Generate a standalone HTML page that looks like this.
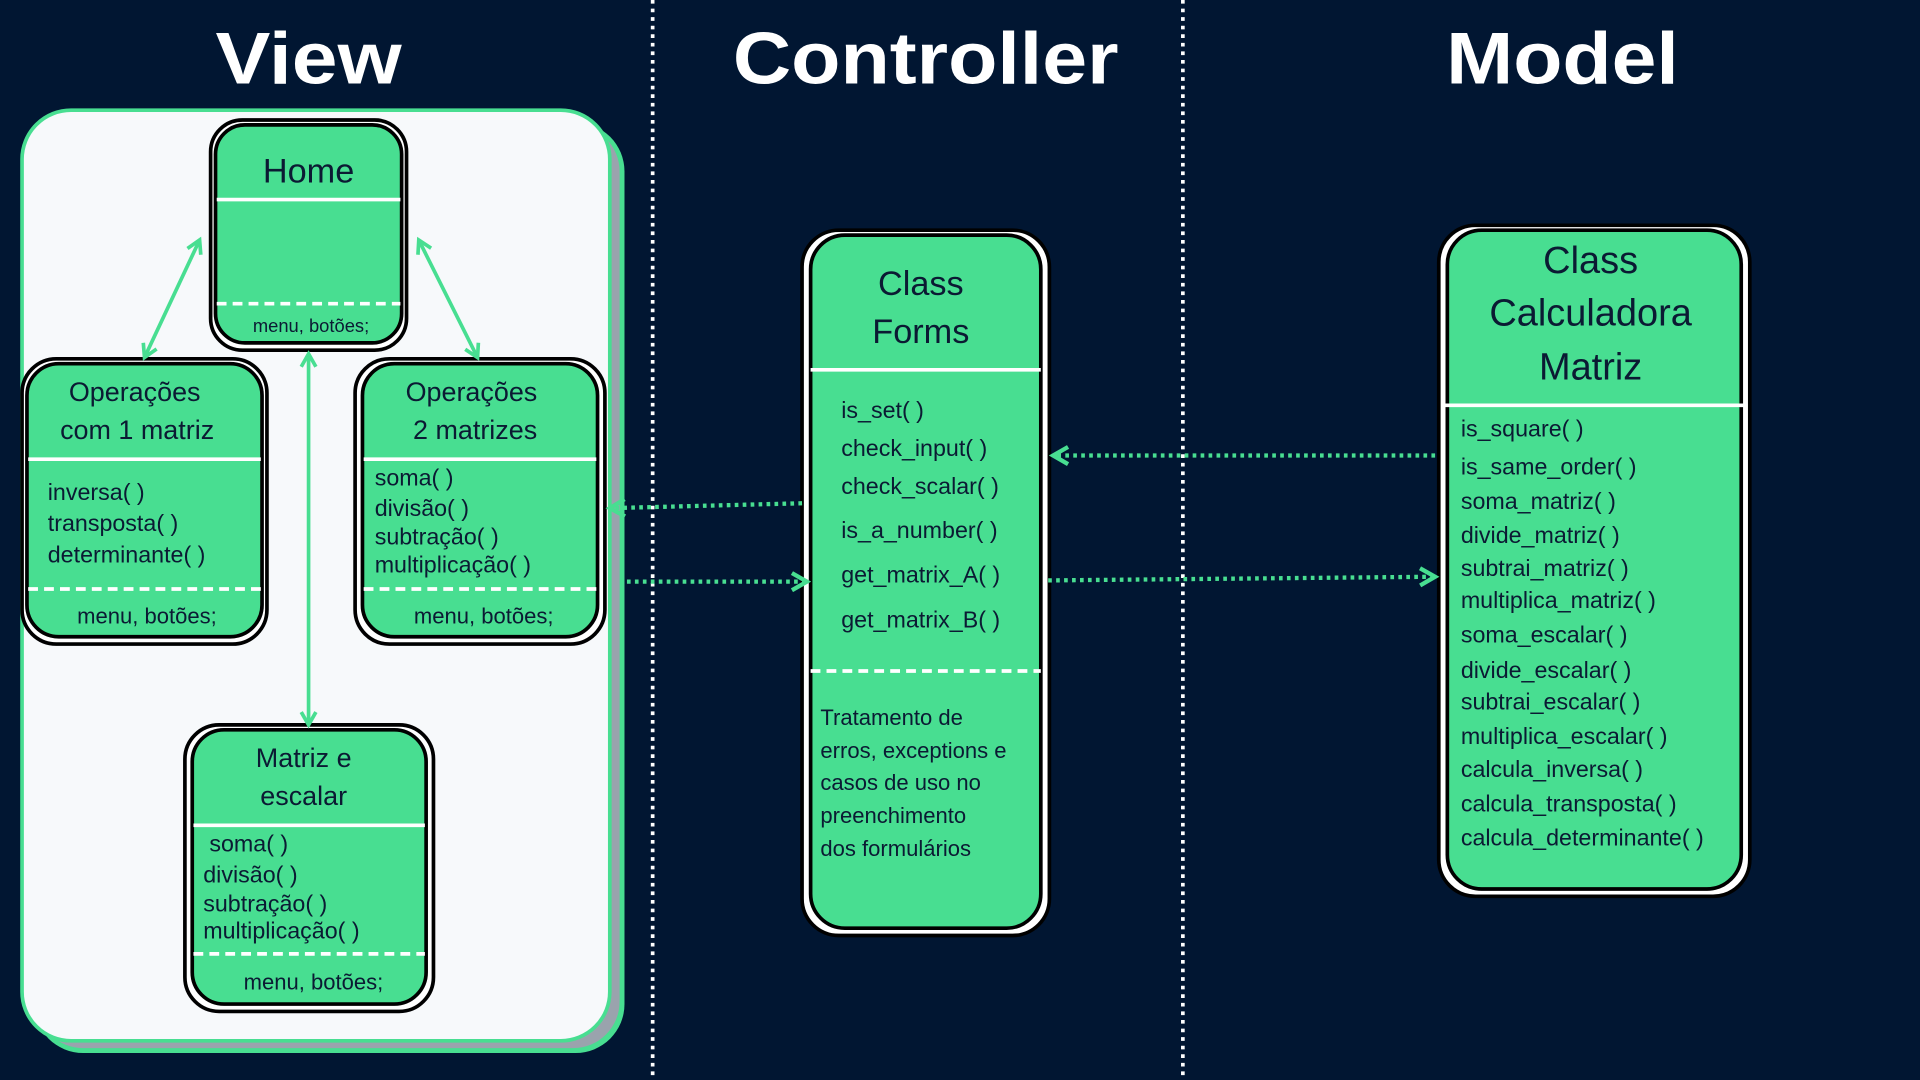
<!DOCTYPE html>
<html><head><meta charset="utf-8"><style>
html,body{margin:0;padding:0;background:#011632;}
svg{display:block}
text{font-family:"Liberation Sans",sans-serif;fill:#0b1a33;}
.t{font-size:22px}
.i{font-size:19px}
.m{font-size:18px}
</style></head><body>
<svg width="1920" height="1080" viewBox="0 0 1568 882" xmlns="http://www.w3.org/2000/svg">
<defs>
<marker id="ah" viewBox="0 0 10 10" refX="8" refY="5" markerWidth="5" markerHeight="5" orient="auto-start-reverse">
<path d="M1 1 L8 5 L1 9" fill="none" stroke="#48de91" stroke-width="2"/></marker>
</defs>
<rect width="1568" height="882" fill="#011632"/>
<line x1="533" y1="0" x2="533" y2="882" stroke="#fff" stroke-width="3" stroke-dasharray="3 4"/>
<line x1="966" y1="0" x2="966" y2="882" stroke="#fff" stroke-width="3" stroke-dasharray="3 4"/>
<g font-weight="bold" font-size="60" text-anchor="middle">
<text x="252" y="68" style="fill:#fff" textLength="152" lengthAdjust="spacingAndGlyphs">View</text>
<text x="756" y="68" style="fill:#fff" textLength="315" lengthAdjust="spacingAndGlyphs">Controller</text>
<text x="1276" y="68" style="fill:#fff" textLength="190" lengthAdjust="spacingAndGlyphs">Model</text>
</g>
<rect x="28" y="100" width="482" height="760" rx="40" fill="#48de91"/>
<rect x="30" y="102" width="476" height="754" rx="38" fill="#9aa3ad"/>
<rect x="18" y="90" width="480" height="760" rx="40" fill="#f7f9fb" stroke="#48de91" stroke-width="3"/>

<g stroke="#000" stroke-width="3">
<rect x="172" y="98" width="160" height="188" rx="26" fill="#fff"/>
<rect x="176" y="102" width="152" height="178" rx="24" fill="#48de91"/>
<rect x="18" y="293" width="200" height="233" rx="28" fill="#fff"/>
<rect x="22" y="297" width="192" height="223" rx="26" fill="#48de91"/>
<rect x="290" y="293" width="204" height="233" rx="28" fill="#fff"/>
<rect x="296" y="297" width="192" height="223" rx="26" fill="#48de91"/>
<rect x="151" y="592" width="203" height="234" rx="28" fill="#fff"/>
<rect x="157" y="596" width="191" height="224" rx="26" fill="#48de91"/>
<rect x="655" y="188" width="202" height="576" rx="30" fill="#fff"/>
<rect x="662" y="192" width="188" height="566" rx="28" fill="#48de91"/>
<rect x="1175" y="184" width="254" height="548" rx="30" fill="#fff"/>
<rect x="1182" y="188" width="240" height="538" rx="28" fill="#48de91"/>
</g>
<g stroke="#fff" stroke-width="3">
<line x1="177" y1="163" x2="327" y2="163"/>
<line x1="23" y1="375" x2="213" y2="375"/>
<line x1="297" y1="375" x2="487" y2="375"/>
<line x1="158" y1="674" x2="347" y2="674"/>
<line x1="662" y1="302" x2="850" y2="302"/>
<line x1="1180" y1="331" x2="1424" y2="331"/>
</g>
<g stroke="#fff" stroke-width="3" stroke-dasharray="8 5">
<line x1="177" y1="248" x2="327" y2="248"/>
<line x1="23" y1="481" x2="213" y2="481"/>
<line x1="297" y1="481" x2="487" y2="481"/>
<line x1="158" y1="779" x2="347" y2="779"/>
<line x1="662" y1="548" x2="850" y2="548"/>
</g>
<g dominant-baseline="central">
<text x="252" y="140" font-size="28" text-anchor="middle">Home</text>
<text x="254" y="266" font-size="15" text-anchor="middle">menu, botões;</text>
<g class="t" text-anchor="middle">
<text x="110" y="320">Operações</text><text x="112" y="351">com 1 matriz</text>
<text x="385" y="320">Operações</text><text x="388" y="351">2 matrizes</text>
<text x="248" y="619">Matriz e</text><text x="248" y="650">escalar</text>
</g>
<g class="i">
<text x="39" y="402">inversa( )</text><text x="39" y="427">transposta( )</text><text x="39" y="453">determinante( )</text>
<text x="306" y="390">soma( )</text><text x="306" y="415">divisão( )</text><text x="306" y="438">subtração( )</text><text x="306" y="461">multiplicação( )</text>
<text x="171" y="689">soma( )</text><text x="166" y="714">divisão( )</text><text x="166" y="738">subtração( )</text><text x="166" y="760">multiplicação( )</text>
</g>
<g class="m" text-anchor="middle">
<text x="120" y="503">menu, botões;</text>
<text x="395" y="503">menu, botões;</text>
<text x="256" y="802">menu, botões;</text>
</g>
<g font-size="28" text-anchor="middle">
<text x="752" y="232">Class</text><text x="752" y="271">Forms</text>
</g>
<g font-size="31" text-anchor="middle">
<text x="1299" y="213">Class</text><text x="1299" y="256">Calculadora</text><text x="1299" y="300">Matriz</text>
</g>
<g class="i">
<text x="687" y="335">is_set( )</text><text x="687" y="366">check_input( )</text><text x="687" y="397">check_scalar( )</text>
<text x="687" y="433">is_a_number( )</text><text x="687" y="469">get_matrix_A( )</text><text x="687" y="506">get_matrix_B( )</text>
</g>
<g class="m">
<text x="670" y="586">Tratamento de</text><text x="670" y="613">erros, exceptions e</text><text x="670" y="639">casos de uso no</text>
<text x="670" y="666">preenchimento</text><text x="670" y="693">dos formulários</text>
</g>
<g class="i">
<text x="1193" y="350">is_square( )</text><text x="1193" y="381">is_same_order( )</text><text x="1193" y="409">soma_matriz( )</text>
<text x="1193" y="437">divide_matriz( )</text><text x="1193" y="464">subtrai_matriz( )</text><text x="1193" y="490">multiplica_matriz( )</text>
<text x="1193" y="518">soma_escalar( )</text><text x="1193" y="547">divide_escalar( )</text><text x="1193" y="573">subtrai_escalar( )</text>
<text x="1193" y="601">multiplica_escalar( )</text><text x="1193" y="628">calcula_inversa( )</text><text x="1193" y="656">calcula_transposta( )</text>
<text x="1193" y="684">calcula_determinante( )</text>
</g>
</g>
<g stroke="#48de91" stroke-width="3" fill="none">
<line x1="163" y1="196" x2="118" y2="292" marker-start="url(#ah)" marker-end="url(#ah)"/>
<line x1="342" y1="196" x2="390" y2="292" marker-start="url(#ah)" marker-end="url(#ah)"/>
<line x1="252" y1="289" x2="252" y2="592" marker-start="url(#ah)" marker-end="url(#ah)"/>
<g stroke-dasharray="3 3.5" stroke-width="3.5">
<line x1="655" y1="411" x2="498" y2="415" marker-end="url(#ah)"/>
<line x1="512" y1="475" x2="659" y2="475" marker-end="url(#ah)"/>
<line x1="1172" y1="372" x2="860" y2="372" marker-end="url(#ah)"/>
<line x1="856" y1="474" x2="1172" y2="471" marker-end="url(#ah)"/>
</g>
</g>
</svg>
</body></html>
